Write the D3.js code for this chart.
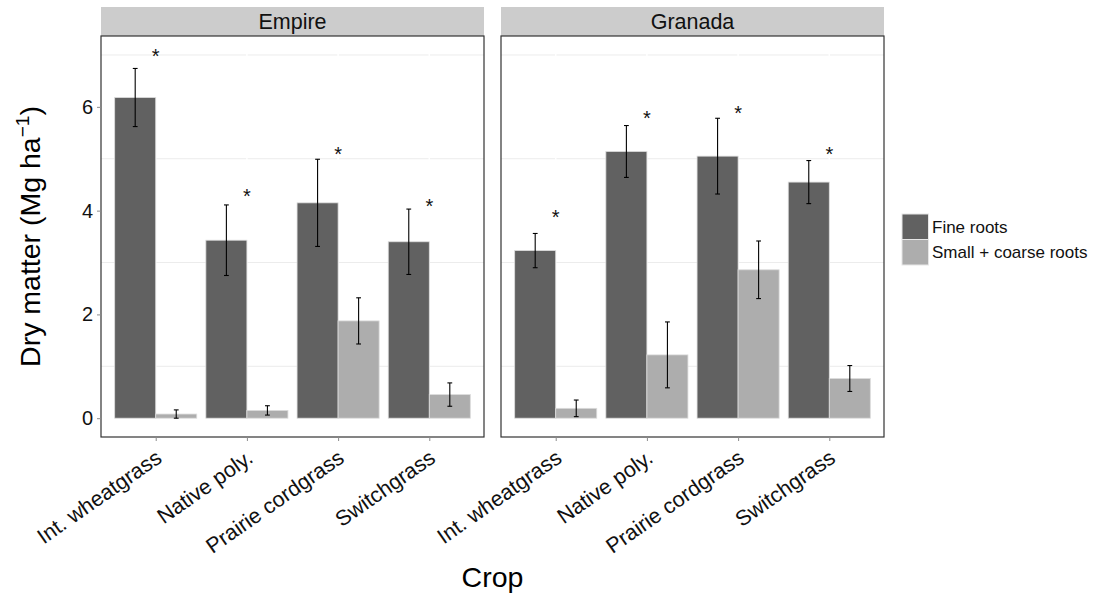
<!DOCTYPE html>
<html>
<head>
<meta charset="utf-8">
<script src="https://cdn.jsdelivr.net/npm/d3@7"></script>
<style>
  html, body { margin: 0; padding: 0; background: #ffffff; }
  svg { display: block; font-family: "Liberation Sans", Arial, sans-serif; }
</style>
</head>
<body>
<svg id="chart" width="1100" height="598"></svg>
<script>
// Root dry matter by crop, split by site (facets) and root class (dodged bars)
const sites = ["Empire", "Granada"];
const crops = ["Int. wheatgrass", "Native poly.", "Prairie cordgrass", "Switchgrass"];
const rootTypes = ["Fine roots", "Small + coarse roots"];

// means and standard errors (Mg ha-1), in crop order
const fineEmpire      = [6.18, 3.43, 4.15, 3.40];
const fineEmpireSE    = [0.56, 0.68, 0.84, 0.63];
const coarseEmpire    = [0.08, 0.15, 1.875, 0.455];
const coarseEmpireSE  = [0.08, 0.09, 0.445, 0.225];
const fineGranada     = [3.23, 5.14, 5.05, 4.55];
const fineGranadaSE   = [0.33, 0.50, 0.73, 0.415];
const coarseGranada   = [0.19, 1.22, 2.86, 0.765];
const coarseGranadaSE = [0.16, 0.635, 0.555, 0.25];

// significance markers: height (Mg ha-1) of each asterisk
const starEmpire  = [7.06, 4.37, 5.17, 4.17];
const starGranada = [3.97, 5.87, 5.97, 5.17];

const yTicks = [0, 2, 4, 6];
const yMinor = [1, 3, 5, 7];

const colors = { "Fine roots": "#616161", "Small + coarse roots": "#adadad" };

const siteData = {
  Empire:  { fine: fineEmpire,  fineSE: fineEmpireSE,  coarse: coarseEmpire,  coarseSE: coarseEmpireSE,  star: starEmpire },
  Granada: { fine: fineGranada, fineSE: fineGranadaSE, coarse: coarseGranada, coarseSE: coarseGranadaSE, star: starGranada }
};

const svg = d3.select("#chart");

// layout
const panelLeft = [101, 501];
const panelW = 383;
const stripTop = 7, stripH = 29;
const panelTop = stripTop + stripH, panelBottom = 437;

const y = d3.scaleLinear().domain([-0.3625, 7.3655]).range([panelBottom, panelTop]);
const x = d3.scalePoint().domain(crops).range([0, panelW]).padding(0.6);
const step = x.step();
const barW = step * 0.45;

sites.forEach((site, si) => {
  const d = siteData[site];
  const g = svg.append("g").attr("transform", `translate(${panelLeft[si]},0)`);

  // strip
  g.append("rect").attr("x", 0).attr("y", stripTop).attr("width", panelW).attr("height", stripH)
    .attr("fill", "#cccccc");
  g.append("text").attr("x", panelW / 2).attr("y", stripTop + stripH / 2 + 7.5)
    .attr("text-anchor", "middle").attr("font-size", 21.5).attr("fill", "#111")
    .text(site);

  // grid
  g.selectAll(".hgrid").data(yMinor).join("line")
    .attr("x1", 0).attr("x2", panelW)
    .attr("y1", v => y(v)).attr("y2", v => y(v))
    .attr("stroke", "#ececec").attr("stroke-width", 1);
  g.selectAll(".vgrid").data(crops).join("line")
    .attr("x1", c => x(c)).attr("x2", c => x(c))
    .attr("y1", panelTop).attr("y2", panelBottom)
    .attr("stroke", "#ffffff").attr("stroke-width", 1.5);

  const rows = crops.map((c, i) => ({
    crop: c,
    fine: d.fine[i], fineSE: d.fineSE[i],
    coarse: d.coarse[i], coarseSE: d.coarseSE[i],
    star: d.star[i]
  }));

  const bars = [];
  rows.forEach(r => {
    bars.push({ type: "Fine roots", x0: x(r.crop) - barW, v: r.fine, se: r.fineSE });
    bars.push({ type: "Small + coarse roots", x0: x(r.crop), v: r.coarse, se: r.coarseSE });
  });

  g.selectAll(".bar").data(bars).join("rect")
    .attr("x", b => b.x0).attr("width", barW)
    .attr("y", b => y(b.v)).attr("height", b => y(0) - y(b.v))
    .attr("fill", b => colors[b.type])
    .attr("stroke", "#dcdcdc").attr("stroke-width", 0.8);

  // error bars
  const cap = 2.4;
  const eb = g.selectAll(".err").data(bars).join("g")
    .attr("transform", b => `translate(${b.x0 + barW / 2},0)`);
  eb.append("line").attr("x1", 0).attr("x2", 0)
    .attr("y1", b => y(Math.max(0, b.v - b.se))).attr("y2", b => y(b.v + b.se))
    .attr("stroke", "#000").attr("stroke-width", 1.1);
  eb.append("line").attr("x1", -cap).attr("x2", cap)
    .attr("y1", b => y(b.v + b.se)).attr("y2", b => y(b.v + b.se))
    .attr("stroke", "#000").attr("stroke-width", 1.1);
  eb.append("line").attr("x1", -cap).attr("x2", cap)
    .attr("y1", b => y(Math.max(0, b.v - b.se))).attr("y2", b => y(Math.max(0, b.v - b.se)))
    .attr("stroke", "#000").attr("stroke-width", 1.1);

  // asterisks
  g.selectAll(".star").data(rows).join("text")
    .attr("x", r => x(r.crop)).attr("y", r => y(r.star) + 11.4)
    .attr("text-anchor", "middle").attr("font-size", 20).attr("fill", "#111")
    .text("*");

  // panel border
  g.append("rect").attr("x", 0).attr("y", panelTop).attr("width", panelW)
    .attr("height", panelBottom - panelTop)
    .attr("fill", "none").attr("stroke", "#333").attr("stroke-width", 1.2);

  // x axis
  const xAxis = g.append("g").attr("transform", `translate(0,${panelBottom})`)
    .call(d3.axisBottom(x).tickSize(4).tickPadding(0));
  xAxis.select(".domain").remove();
  xAxis.selectAll(".tick line").attr("stroke", "#8c8c8c");
  xAxis.selectAll(".tick text")
    .attr("font-size", 21.5).attr("fill", "#111")
    .attr("font-family", "Liberation Sans, Arial, sans-serif")
    .attr("text-anchor", "end")
    .attr("x", 0).attr("y", 0).attr("dy", 0)
    .attr("transform", "translate(7,24) rotate(-35)");

  // y axis on the first panel only
  if (si === 0) {
    const yAxis = g.append("g")
      .call(d3.axisLeft(y).tickValues(yTicks).tickSize(4).tickPadding(4).tickFormat(d3.format("d")));
    yAxis.select(".domain").remove();
    yAxis.selectAll(".tick line").attr("stroke", "#8c8c8c");
    yAxis.selectAll(".tick text").attr("font-size", 20).attr("fill", "#111")
      .attr("font-family", "Liberation Sans, Arial, sans-serif");
  }
});

// axis titles
const yTitle = svg.append("text")
  .attr("transform", `translate(40,${(panelTop + panelBottom) / 2}) rotate(-90)`)
  .attr("text-anchor", "middle").attr("font-size", 28.5).attr("fill", "#000");
yTitle.append("tspan").text("Dry matter (Mg ha");
yTitle.append("tspan").attr("font-size", 19).attr("dy", -11).text("\u22121");
yTitle.append("tspan").attr("dy", 11).text(")");

svg.append("text")
  .attr("x", (panelLeft[0] + panelLeft[1] + panelW) / 2).attr("y", 587)
  .attr("text-anchor", "middle").attr("font-size", 28.5).attr("fill", "#000")
  .text("Crop");

// legend
const leg = svg.append("g").attr("transform", "translate(902,214)");
const keyH = 25.5;
rootTypes.forEach((t, i) => {
  leg.append("rect").attr("x", 0).attr("y", i * keyH).attr("width", 26.5).attr("height", keyH)
    .attr("fill", colors[t]).attr("stroke", "#e6e6e6").attr("stroke-width", 1);
  leg.append("text").attr("x", 30).attr("y", i * keyH + keyH / 2 + 6)
    .attr("font-size", 17).attr("fill", "#111").text(t);
});
</script>
</body>
</html>
